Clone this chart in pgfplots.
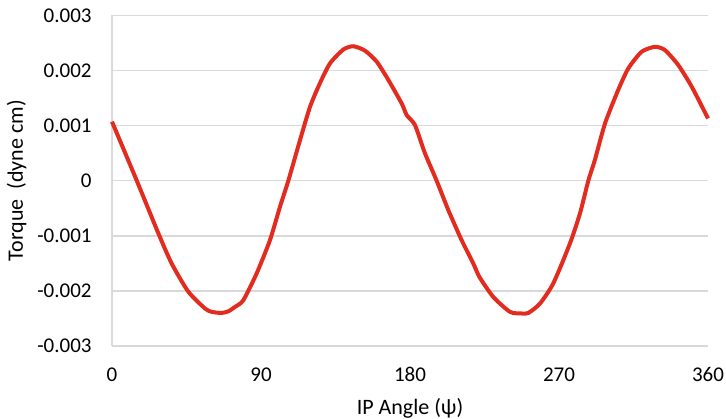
\documentclass[border=0pt]{standalone}
\usepackage{pgfplots}
\pgfplotsset{compat=1.18}
\usepackage{fontspec}
\setmainfont{Carlito}
\definecolor{curvered}{RGB}{226,44,32}
\definecolor{gridgray}{RGB}{217,217,217}

% Torque against in-plane angle (values in dyne cm)
\pgfplotstableread{
psi    torque
0      0.001071
14.9   0.000005
28     -0.000955
36     -0.001500
46     -0.002010
56.2   -0.002320
60.2   -0.002380
66.2   -0.002400
70.3   -0.002370
74.3   -0.002290
79.3   -0.002170
87.4   -0.001680
95.4   -0.001080
101.5  -0.000470
106.5  0.000000
113.6  0.000740
119.6  0.001340
125.6  0.001770
131.7  0.002130
139.7  0.002380
145.8  0.002440
152.8  0.002360
159.9  0.002160
166.9  0.001830
175    0.001400
178    0.001190
183    0.001010
189    0.000500
196.1  0.000000
203.1  -0.000530
211.2  -0.001080
218.2  -0.001500
222    -0.001750
230.3  -0.002110
240.4  -0.002380
247.5  -0.002410
251.5  -0.002400
258.5  -0.002230
266.6  -0.001860
276.6  -0.001140
282.7  -0.000590
287.7  0.000000
291.7  0.000380
297.8  0.001040
305.8  0.001650
311.9  0.002040
319.9  0.002340
328    0.002430
334    0.002370
342    0.002100
350.1  0.001710
360    0.001130
}\torquedata

\begin{document}
\begin{tikzpicture}
\begin{axis}[
  name=main,
  scale only axis,
  width=298pt, height=165.3pt,
  xmin=0, xmax=360,
  ymin=-0.003, ymax=0.003,
  xtick={0,90,180,270,360},
  ytick={-0.003,-0.002,-0.001,0,0.001,0.002,0.003},
  yticklabels={-0.003,-0.002,-0.001,0,0.001,0.002,0.003},
  scaled y ticks=false,
  axis lines=left,
  axis line style={-},
  x axis line style={draw=none},
  y axis line style={draw=gridgray, line width=0.75pt},
  major tick length=0pt,
  ymajorgrids,
  major grid style={draw=gridgray, line width=0.75pt},
  tick label style={font=\fontsize{10.5}{12}\selectfont, text=black},
  /pgf/number format/assume math mode=true,
  yticklabel style={inner sep=0pt, anchor=east, xshift=-10pt},
  xticklabel style={inner sep=0pt, anchor=north, yshift=-10.5pt},
  xlabel={IP Angle (ψ)},
  ylabel={Torque~ (dyne cm)},
  every axis x label/.style={at={([yshift=-31pt]axis description cs:0.5,0)}, anchor=center, font=\fontsize{11}{13}\selectfont},
  every axis y label/.style={at={([xshift=-47.7pt]axis description cs:0,0.5)}, rotate=90, anchor=center, font=\fontsize{11}{13}\selectfont},
  clip=false,
]
\addplot[color=curvered, line width=2pt, smooth, tension=0.4] table[x=psi, y=torque] {\torquedata};
\end{axis}
% fixed page margins around the plot area
\pgfresetboundingbox
\path[use as bounding box] ([shift={(-56pt,-36pt)}]main.south west) rectangle ([shift={(9pt,7.7pt)}]main.north east);
\end{tikzpicture}
\end{document}
